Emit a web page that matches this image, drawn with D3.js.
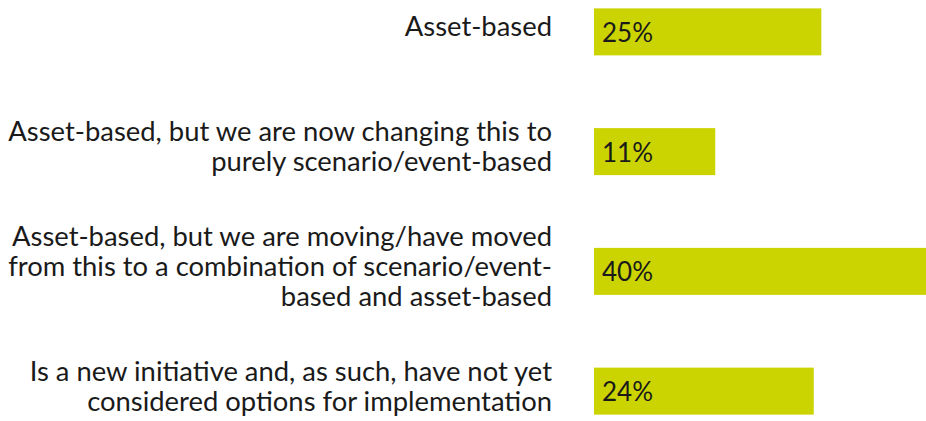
<!DOCTYPE html>
<html>
<head>
<meta charset="utf-8">
<script src="https://cdn.jsdelivr.net/npm/d3@7"></script>
<style>
  html, body { margin: 0; padding: 0; background: #fff; }
  svg { display: block; }
  text { font-family: Lato, "Noto Sans", sans-serif; fill: #1a1a1a; }
</style>
</head>
<body>
<svg id="chart" width="926" height="421"></svg>
<script>
// answer categories, each split into the lines shown on the chart
var categories = [
  ["Asset-based"],
  ["Asset-based, but we are now changing this to", "purely scenario/event-based"],
  ["Asset-based, but we are moving/have moved", "from this to a combination of scenario/event-", "based and asset-based"],
  ["Is a new initiative and, as such, have not yet", "considered options for implementation"]
];
var shares = [25, 11, 40, 24];

var width = 926;
var height = 421;
var barStart = 594;
var labelEnd = 552;
var fontSize = 27.4;
var lineHeight = 30;

var svg = d3.select("#chart");

var y = d3
  .scaleBand()
  .domain(d3.range(categories.length))
  .range([-28, 451])
  .paddingInner(0.6075)
  .paddingOuter(0.30375);

// bars in the original do not start from zero, so the scale carries an offset
// (the 40% bar runs past the right edge and gets cut off)
var x = d3.scaleLinear().domain([-5, 40]).range([barStart, 935]);

svg
  .selectAll("rect.bar")
  .data(shares)
  .enter()
  .append("rect")
  .attr("class", "bar")
  .attr("x", x(-5))
  .attr("y", (d, i) => y(i))
  .attr("width", (d) => x(d) - x(-5))
  .attr("height", y.bandwidth())
  .attr("fill", "#cbd400");

svg
  .selectAll("text.value")
  .data(shares)
  .enter()
  .append("text")
  .attr("class", "value")
  .attr("x", x(-5) + 8)
  .attr("y", (d, i) => y(i) + y.bandwidth() / 2 + 10)
  .attr("font-size", 26)
  .text((d) => d + "%");

var labels = svg
  .selectAll("text.label")
  .data(categories)
  .enter()
  .append("text")
  .attr("class", "label")
  .attr("text-anchor", "end")
  .attr("font-size", fontSize)
  .attr("y", function (d, i) {
    var mid = y(i) + y.bandwidth() / 2;
    // center the block of lines on the bar
    return mid - ((d.length - 1) * lineHeight) / 2 + 4.5;
  });

labels
  .selectAll("tspan")
  .data((d) => d)
  .enter()
  .append("tspan")
  .attr("x", labelEnd)
  .attr("dy", (d, j) => (j == 0 ? 0 : lineHeight))
  .text((d) => d);
</script>
</body>
</html>
